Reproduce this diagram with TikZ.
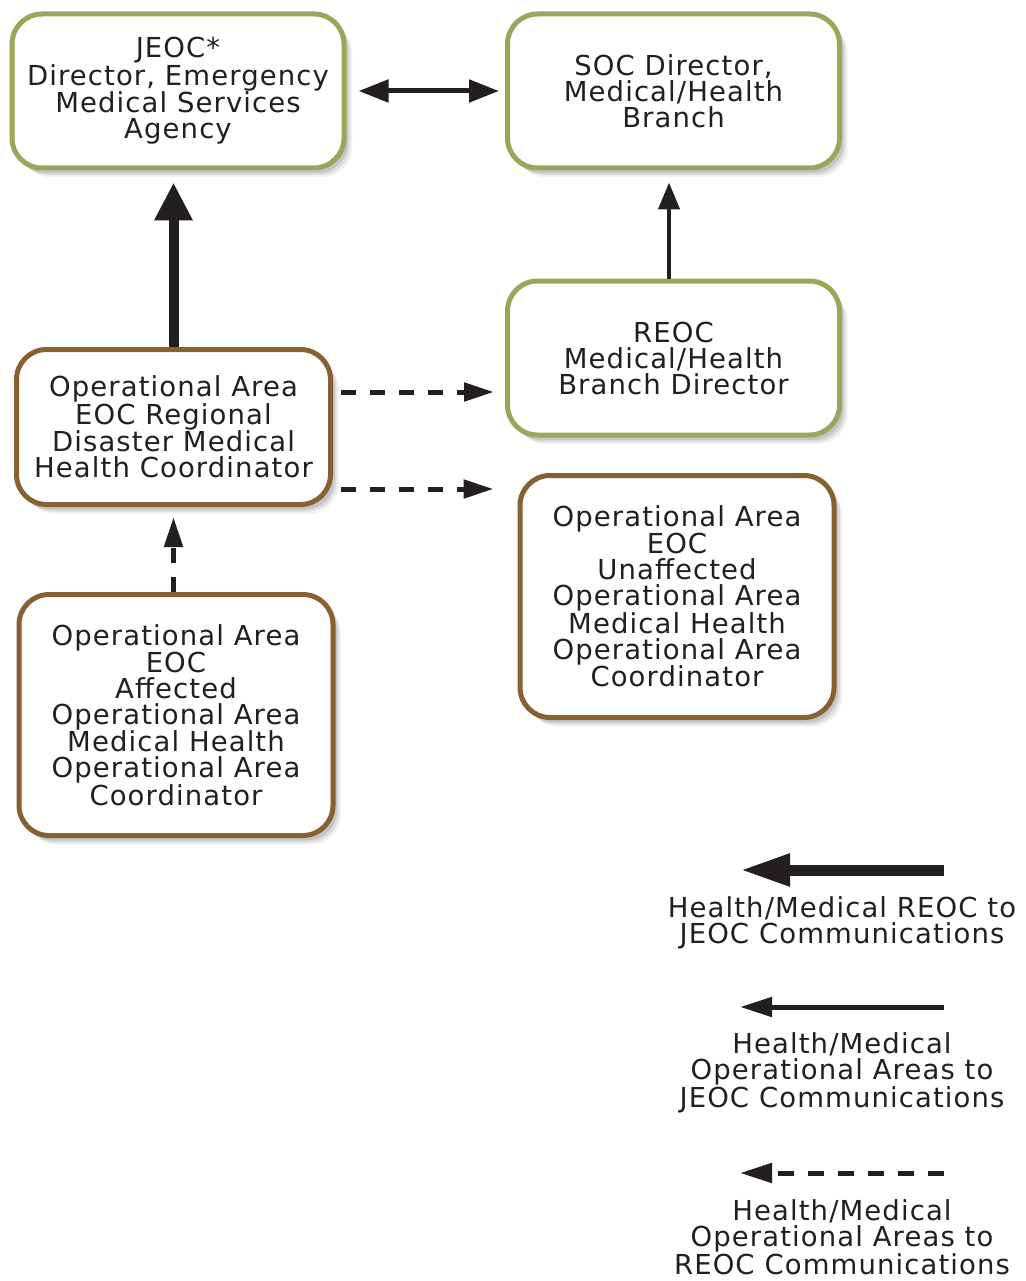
\documentclass[tikz,border=0pt]{standalone}
\usepackage{fontspec}
\setmainfont{DejaVu Sans}[LetterSpace=4]
\usetikzlibrary{arrows.meta,shadows}
\definecolor{boxgreen}{RGB}{152,168,90}
\definecolor{boxbrown}{RGB}{137,97,48}
\definecolor{ink}{RGB}{35,31,32}

\begin{document}
\begin{tikzpicture}[x=1pt, y=1pt, text=ink, draw=ink,
                    font=\fontsize{27.5}{26}\selectfont,
                    box node/.style={rectangle, rounded corners=30pt, line width=5pt, fill=white,
                                     align=center, inner sep=0pt,
                                     drop shadow={shadow xshift=8pt, shadow yshift=-9pt, opacity=0.12},
                                     drop shadow={shadow xshift=6pt, shadow yshift=-7pt, opacity=0.18},
                                     drop shadow={shadow xshift=4pt, shadow yshift=-5pt, opacity=0.25}},
                    green node/.style={box node, draw=boxgreen, minimum width=332pt, minimum height=154pt},
                    brown node/.style={box node, draw=boxbrown, minimum width=314pt},
                    big arrow/.style={line width=10pt, -{Triangle[length=38pt, width=36pt]}},
                    thin arrow/.style={line width=4.5pt, -{Triangle[length=27pt, width=21pt]}},
                    dash arrow/.style={line width=5pt, dash pattern=on 15pt off 14pt, -{Triangle[length=30pt, width=18pt]}}]

  \useasboundingbox (0,0) rectangle (1025,-1281);

  \node[green node] (jeoc) at (178,-91) {JEOC*\\Director, Emergency\\Medical Services\\Agency};
  \node[green node] (soc) [right of=jeoc, node distance=495.5pt] {SOC Director,\\Medical/Health\\Branch};
  \node[green node] (reoc) [below of=soc, node distance=267pt] {REOC\\Medical/Health\\Branch Director};
  \node[brown node, minimum height=155pt] (reg) [below of=jeoc, node distance=336pt, xshift=-4.5pt]
    {Operational Area\\EOC Regional\\Disaster Medical\\Health Coordinator};
  \node[brown node, minimum height=242pt] (unaff) [below of=reoc, node distance=238.5pt, xshift=3.5pt]
    {Operational Area\\EOC\\Unaffected\\Operational Area\\Medical Health\\Operational Area\\Coordinator};
  \node[brown node, minimum height=241pt] (aff) [below of=reg, node distance=288pt, xshift=2.5pt]
    {Operational Area\\EOC\\Affected\\Operational Area\\Medical Health\\Operational Area\\Coordinator};

  % legend
  \node[align=center] (key1) at (842,-922.5) {Health/Medical REOC to\\JEOC Communications};
  \node[align=center] (key2) at (842,-1073) {Health/Medical\\Operational Areas to\\JEOC Communications};
  \node[align=center] (key3) at (842,-1237) {Health/Medical\\Operational Areas to\\REOC Communications};
  \coordinate (k1s) at (944,-870);   \coordinate (k1e) at (740,-870);
  \coordinate (k2s) at (944,-1007);  \coordinate (k2e) at (740,-1007);
  \coordinate (k3s) at (944,-1173);  \coordinate (k3e) at (740,-1173);

  \path[draw=ink]
    (jeoc.east) edge [thin arrow, line width=5pt, {Triangle[length=30pt, width=22pt]}-{Triangle[length=30pt, width=22pt]},
                      shorten <=12pt, shorten >=6pt] (soc.west)
    (reg.north) edge [big arrow, shorten >=12pt] (reg.north |- jeoc.south)
    ([xshift=-4.5pt]reoc.north) edge [thin arrow, shorten >=12pt] ([xshift=-4.5pt]reoc.north |- soc.south)
    ([yshift=35pt]reg.east) edge [dash arrow, shorten <=8pt, shorten >=11pt] ([yshift=-34pt]reoc.west)
    ([yshift=-62pt]reg.east) edge [dash arrow, shorten <=8pt, shorten >=24pt] ([yshift=107.5pt]unaff.west)
    (reg.south |- aff.north) edge [dash arrow, shorten >=10pt] (reg.south)
    (k1s) edge [line width=11pt, -{Triangle[length=50pt, width=30pt]}] (k1e)
    (k2s) edge [line width=5pt, -{Triangle[length=32pt, width=19pt]}] (k2e)
    (k3s) edge [line width=5pt, dash pattern=on 16pt off 14pt, -{Triangle[length=32pt, width=19pt]}] (k3e);
\end{tikzpicture}
\end{document}
